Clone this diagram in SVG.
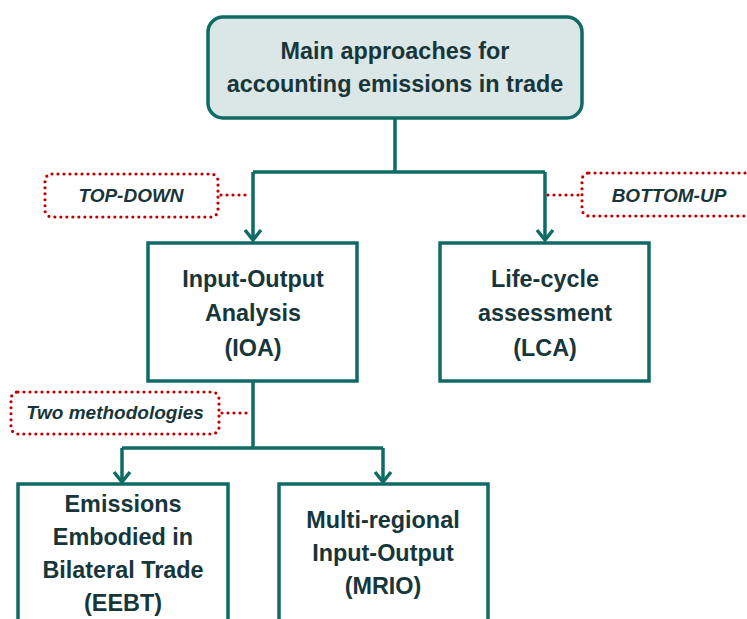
<svg xmlns="http://www.w3.org/2000/svg" width="747" height="619" viewBox="0 0 747 619">
<style>
.box{fill:#fff;stroke:#0f6b64;stroke-width:3.5}
.main{fill:#dbe6e6;stroke:#0f6b64;stroke-width:3.5}
.t{font-family:"Liberation Sans",Arial,sans-serif;font-weight:bold;font-size:23.4px;fill:#17363a;text-anchor:middle}
.lab{font-family:"Liberation Sans",Arial,sans-serif;font-weight:bold;font-style:italic;font-size:19px;fill:#17363a;text-anchor:middle}
.dot{fill:none;stroke:#c00000;stroke-width:3.2;stroke-dasharray:0 6;stroke-linecap:round}
.conn{fill:none;stroke:#0f6b64;stroke-width:3.5}
.arr{fill:none;stroke:#0f6b64;stroke-width:3.5;stroke-linejoin:miter}
</style>
<rect width="747" height="619" fill="#fff"/>
<g id="connectors">
<path class="conn" d="M395,118 V172 M253,172 H545 M253,172 V240 M545,172 V240"/>
<path class="arr" d="M245,230 L253,240 L261,230 M537,230 L545,240 L553,230"/>
<path class="conn" d="M253,382 V448 M122,448 H383 M122,448 V481 M383,448 V481"/>
<path class="arr" d="M114,472 L122,482 L130,472 M375,472 L383,482 L391,472"/>
<path class="dot" d="M221,195 H251 M548,195 H580 M222,413 H251"/>
</g>
<g id="main">
<rect class="main" x="208" y="17" width="374" height="101" rx="15"/>
<text class="t" x="395" y="59">Main approaches for</text>
<text class="t" x="395" y="92">accounting emissions in trade</text>
</g>
<g id="topdown">
<rect class="dot" x="45" y="174" width="173" height="43" rx="7"/>
<text class="lab" x="131" y="202">TOP-DOWN</text>
</g>
<g id="bottomup">
<rect class="dot" x="582" y="173" width="180" height="43" rx="7"/>
<text class="lab" x="669" y="202">BOTTOM-UP</text>
</g>
<g id="ioa">
<rect class="box" x="148" y="243" width="209" height="138"/>
<text class="t" x="253" y="287">Input-Output</text>
<text class="t" x="253" y="321">Analysis</text>
<text class="t" x="253" y="356">(IOA)</text>
</g>
<g id="lca">
<rect class="box" x="440" y="243" width="209" height="138"/>
<text class="t" x="545" y="287">Life-cycle</text>
<text class="t" x="545" y="321">assessment</text>
<text class="t" x="545" y="356">(LCA)</text>
</g>
<g id="twomethod">
<rect class="dot" x="11" y="392" width="208" height="42" rx="7"/>
<text class="lab" x="115" y="419">Two methodologies</text>
</g>
<g id="eebt">
<rect class="box" x="18" y="484" width="210" height="150"/>
<text class="t" x="123" y="512">Emissions</text>
<text class="t" x="123" y="545">Embodied in</text>
<text class="t" x="123" y="578">Bilateral Trade</text>
<text class="t" x="123" y="611">(EEBT)</text>
</g>
<g id="mrio">
<rect class="box" x="279" y="484" width="209" height="150"/>
<text class="t" x="383" y="528">Multi-regional</text>
<text class="t" x="383" y="561">Input-Output</text>
<text class="t" x="383" y="594">(MRIO)</text>
</g>
</svg>
